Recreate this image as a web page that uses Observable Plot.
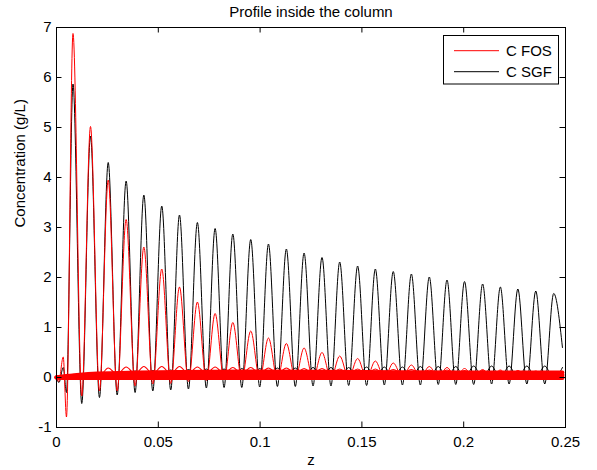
<!DOCTYPE html>
<html><head><meta charset="utf-8">
<script src="https://cdn.jsdelivr.net/npm/d3@7"></script>
<script src="https://cdn.jsdelivr.net/npm/@observablehq/plot@0.6"></script>
<style>
html,body{margin:0;padding:0;background:#fff;}
#wrap{position:relative;width:597px;height:470px;font-family:"Liberation Sans",Arial,Helvetica,sans-serif;}
#legend{position:absolute;left:443px;top:35px;}
</style></head><body><div id="wrap"></div>
<script>
// ---- data ----
const xTicks = [0, 0.05, 0.1, 0.15, 0.2, 0.25];
const yTicks = [-1, 0, 1, 2, 3, 4, 5, 6, 7];
const seriesNames = ["C FOS", "C SGF"];

// z positions of the main peaks and of the troughs between them
const peakZ = [0.0081, 0.0167, 0.0254, 0.0342, 0.0429, 0.0517, 0.0604, 0.0692, 0.0779, 0.0866,
  0.0954, 0.1041, 0.1129, 0.1216, 0.1304, 0.1391, 0.1479, 0.1566, 0.1654, 0.1743,
  0.1831, 0.1918, 0.2004, 0.2093, 0.2180, 0.2266, 0.2354, 0.2442];
const troughZ = [0.0124, 0.0211, 0.0298, 0.0386, 0.0473, 0.0561, 0.0648, 0.0736, 0.0823, 0.0910,
  0.0998, 0.1085, 0.1173, 0.1260, 0.1348, 0.1435, 0.1523, 0.1610, 0.1699, 0.1787,
  0.1875, 0.1961, 0.2049, 0.2137, 0.2223, 0.2310, 0.2398];

// C SGF (black) main profile
const sgfStartZ = [0, 0.0012, 0.0033, 0.0049];
const sgfStartC = [0, -0.1, 0.2, -0.3];
const sgfPeak = [5.87, 4.83, 4.3, 3.93, 3.65, 3.43, 3.25, 3.1, 2.98, 2.87,
  2.76, 2.67, 2.57, 2.49, 2.4, 2.31, 2.23, 2.17, 2.12, 2.07,
  2.01, 1.95, 1.92, 1.87, 1.81, 1.77, 1.73, 1.68];
const sgfTrough = [-0.52, -0.4, -0.35, -0.3, -0.27, -0.25, -0.23, -0.21, -0.2, -0.2,
  -0.19, -0.18, -0.18, -0.17, -0.17, -0.16, -0.16, -0.15, -0.15, -0.15,
  -0.14, -0.14, -0.14, -0.13, -0.13, -0.13, -0.13];
const sgfEndZ = 0.2485, sgfEndC = 0.6;

// C SGF (black) small oscillating profile
const sgfSmallLow = [0, -0.03, -0.03, -0.03, -0.03, -0.03, -0.03, -0.03, -0.03, -0.03,
  -0.03, -0.03, -0.03, -0.03, -0.03, -0.03, -0.03, -0.03, -0.03, -0.03,
  -0.03, -0.03, -0.03, -0.03, -0.03, -0.03, -0.03, -0.03];
const sgfSmallBump = [0.06, 0.09, 0.11, 0.13, 0.14, 0.15, 0.16, 0.17, 0.17, 0.18,
  0.18, 0.19, 0.19, 0.2, 0.2, 0.2, 0.21, 0.21, 0.21, 0.22,
  0.22, 0.22, 0.23, 0.23, 0.23, 0.23, 0.23];
const sgfSmallEnd = 0.2;

// C FOS (red) main profile
const fosStartZ = [0, 0.0011, 0.0033, 0.0049];
const fosStartC = [0, -0.08, 0.41, -0.79];
const fosPeak = [6.88, 5.02, 3.95, 3.16, 2.61, 2.17, 1.81, 1.51, 1.28, 1.1,
  0.93, 0.79, 0.68, 0.59, 0.5, 0.43, 0.38, 0.33, 0.29, 0.25,
  0.22, 0.2, 0.18, 0.16, 0.15, 0.14, 0.13, 0.12];
const fosTrough = [-0.37, -0.27, -0.27, -0.17, -0.13, -0.12, -0.08, -0.06, -0.05, -0.04,
  -0.03, -0.03, -0.02, -0.02, -0.02, -0.01, -0.01, -0.01, 0, 0,
  0, 0, 0, 0, 0, 0, 0];
const fosEndZ = 0.2485, fosEndC = 0.05;

// C FOS (red) rippled profile just above the band
const fosRippleBump = [0.02, 0.1, 0.19, 0.21, 0.22, 0.22, 0.22, 0.21, 0.21, 0.2,
  0.2, 0.19, 0.19, 0.18, 0.18, 0.17, 0.17, 0.17, 0.16, 0.16,
  0.15, 0.15, 0.14, 0.14, 0.13, 0.13, 0.12, 0.12];
const fosRippleLow = [0.0, 0.03, 0.06, 0.07, 0.07, 0.07, 0.07, 0.07, 0.07, 0.07,
  0.07, 0.07, 0.07, 0.07, 0.07, 0.07, 0.07, 0.07, 0.07, 0.07,
  0.07, 0.07, 0.07, 0.07, 0.07, 0.07, 0.07];

// C FOS (red) dense band of profiles near zero
const bandZ = [0, 0.005, 0.01, 0.02, 0.04, 0.06, 0.1, 0.15, 0.2, 0.2485];
const band1 = [0, -0.01, -0.01, -0.01, -0.01, -0.01, -0.01, -0.01, -0.01, -0.01];
const band2 = [0, 0.01, 0.02, 0.03, 0.03, 0.03, 0.03, 0.03, 0.03, 0.03];
const band3 = [0, 0.02, 0.04, 0.05, 0.06, 0.07, 0.07, 0.07, 0.06, 0.06];
const band4 = [0, 0.03, 0.05, 0.08, 0.1, 0.11, 0.12, 0.11, 0.1, 0.1];

// ---- build tables ----
function profile(startZ, startC, pk, tr, endZ, endC) {
  const rows = startZ.map((z, i) => ({z, c: startC[i]}));
  peakZ.forEach((z, i) => {
    rows.push({z, c: pk[i]});
    if (i < troughZ.length) rows.push({z: troughZ[i], c: tr[i]});
  });
  if (endZ != null) rows.push({z: endZ, c: endC});
  return rows;
}
const sgfMain = profile(sgfStartZ, sgfStartC, sgfPeak, sgfTrough, sgfEndZ, sgfEndC);
const sgfSmall = profile([], [], sgfSmallLow, sgfSmallBump, sgfEndZ, sgfSmallEnd);
const fosMain = profile(fosStartZ, fosStartC, fosPeak, fosTrough, fosEndZ, fosEndC);
const fosRipple = profile([], [], fosRippleBump, fosRippleLow, fosEndZ, 0.1);
const bands = [band1, band2, band3, band4].map(b => bandZ.map((z, i) => ({z, c: b[i]})));

const red = "#ff0000", black = "#000000";
const tickLenY = 0.11, tickLenX = 0.0027;

const chart = Plot.plot({
  width: 597, height: 470,
  marginLeft: 56, marginRight: 32, marginTop: 27, marginBottom: 43,
  style: {fontFamily: '"Liberation Sans", Arial, Helvetica, sans-serif', fontSize: "15px", background: "white", color: "black"},
  x: {domain: [0, 0.25]},
  y: {domain: [-1, 7]},
  marks: [
    Plot.line(sgfMain, {x: "z", y: "c", stroke: black, strokeWidth: 1, curve: "monotone-x"}),
    Plot.line(sgfSmall, {x: "z", y: "c", stroke: black, strokeWidth: 1, curve: "monotone-x"}),
    Plot.line(fosMain, {x: "z", y: "c", stroke: red, strokeWidth: 1, curve: "monotone-x"}),
    Plot.line(fosRipple, {x: "z", y: "c", stroke: red, strokeWidth: 1.2, curve: "monotone-x"}),
    ...bands.map(b => Plot.line(b, {x: "z", y: "c", stroke: red, strokeWidth: 4, curve: "monotone-x"})),
    Plot.frame({stroke: black, strokeWidth: 1}),
    Plot.ruleX(xTicks, {x: d => d, y1: -1, y2: -1 + tickLenY, stroke: black}),
    Plot.ruleX(xTicks, {x: d => d, y1: 7, y2: 7 - tickLenY, stroke: black}),
    Plot.ruleY(yTicks, {y: d => d, x1: 0, x2: tickLenX, stroke: black}),
    Plot.ruleY(yTicks, {y: d => d, x1: 0.25, x2: 0.25 - tickLenX, stroke: black}),
    Plot.axisX({ticks: xTicks, tickFormat: d => String(d), tickSize: 0, tickPadding: 9, label: null}),
    Plot.axisY({ticks: yTicks, tickFormat: d => String(d), tickSize: 0, tickPadding: 5, label: null}),
    Plot.text(["Profile inside the column"], {frameAnchor: "top", lineAnchor: "middle", dy: -15.5, fill: black}),
    Plot.text(["z"], {frameAnchor: "bottom", lineAnchor: "middle", dy: 33, fill: black}),
    Plot.text(["Concentration (g/L)"], {frameAnchor: "left", lineAnchor: "middle", rotate: -90, dx: -36, fill: black})
  ]
});
document.getElementById("wrap").appendChild(chart);

// legend overlay
const colors = [red, black];
const leg = d3.select("#wrap").append("svg").attr("id", "legend")
  .attr("width", 117).attr("height", 50);
leg.append("rect").attr("x", 0.5).attr("y", 0.5).attr("width", 115).attr("height", 48.5)
  .attr("fill", "white").attr("stroke", black);
seriesNames.forEach((name, i) => {
  const y = 15.7 + i * 21;
  leg.append("line").attr("x1", 11).attr("x2", 56).attr("y1", y).attr("y2", y)
    .attr("stroke", colors[i]).attr("stroke-width", 1);
  leg.append("text").attr("x", 63).attr("y", y + 5.2).text(name)
    .attr("font-size", 15).attr("font-family", '"Liberation Sans", Arial, Helvetica, sans-serif').attr("fill", black);
});
</script>
</body></html>
